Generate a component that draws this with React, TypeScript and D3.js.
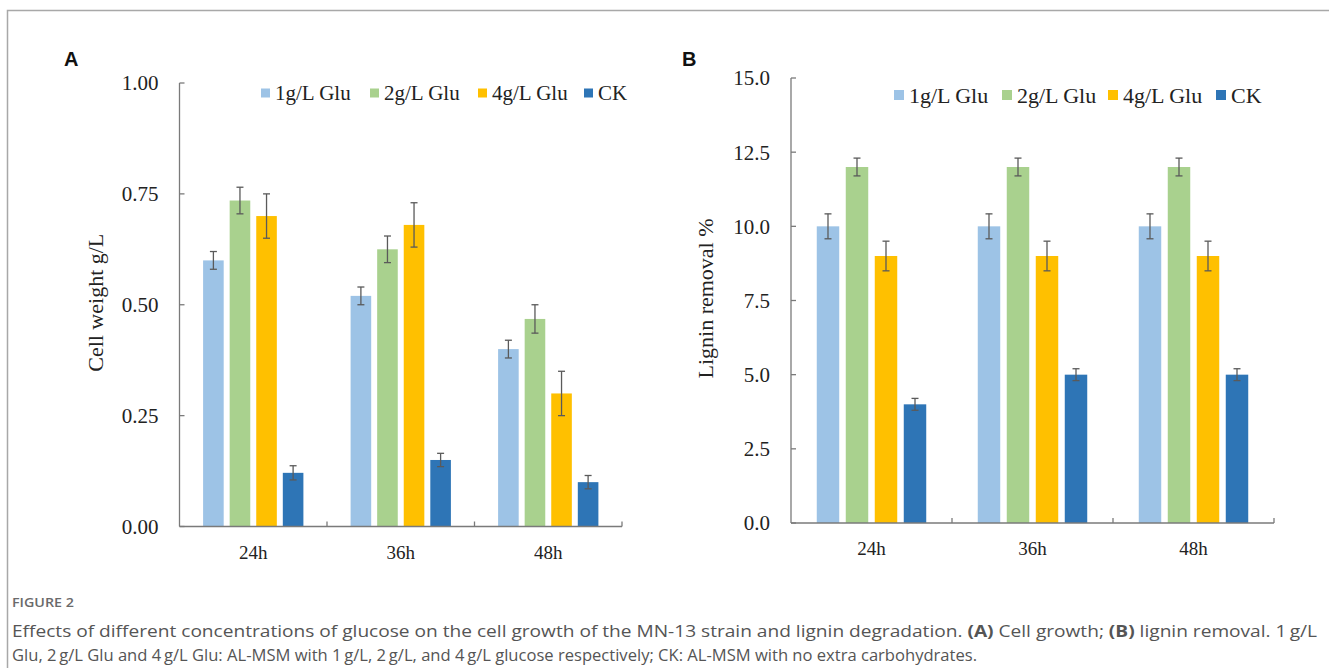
import React, { useEffect } from "react";
import * as d3 from "d3";

const categories = ["24h", "36h", "48h"];
const seriesNames = ["1g/L Glu", "2g/L Glu", "4g/L Glu", "CK"];
const seriesColors = ["#9DC3E6", "#A9D18E", "#FFC000", "#2E75B6"];

// panel A: cell weight g/L
const cellGlu1 = [0.6, 0.52, 0.4];
const cellGlu2 = [0.735, 0.625, 0.468];
const cellGlu4 = [0.7, 0.68, 0.3];
const cellCK = [0.121, 0.15, 0.1];
const cellErr1 = [0.02, 0.02, 0.02];
const cellErr2 = [0.03, 0.03, 0.032];
const cellErr4 = [0.05, 0.05, 0.05];
const cellErrCK = [0.016, 0.015, 0.015];
const cellTicks = [0, 0.25, 0.5, 0.75, 1.0];

// panel B: lignin removal %
const ligGlu1 = [10, 10, 10];
const ligGlu2 = [12, 12, 12];
const ligGlu4 = [9, 9, 9];
const ligCK = [4, 5, 5];
const ligErr1 = [0.42, 0.42, 0.42];
const ligErr2 = [0.3, 0.3, 0.3];
const ligErr4 = [0.5, 0.5, 0.5];
const ligErrCK = [0.2, 0.2, 0.2];
const ligTicks = [0, 2.5, 5, 7.5, 10, 12.5, 15];

const serif = "'Liberation Serif', 'Times New Roman', serif";
const axisColor = "#7a7a7a";
const errColor = "#5a5a5a";

type PanelProps = {
  letter: string;
  letterX: number;
  values: number[][];
  errors: number[][];
  ticks: number[];
  tickFmt: string;
  yMax: number;
  x0: number;
  x1: number;
  yTop: number;
  yBottom: number;
  groupFrac: number;
  yTitle: string;
  yTitleX: number;
  legendX: number[];
  legendY: number;
  legendSize: number;
  legendFont: number;
  tickFont: number;
};

function Panel(p: PanelProps) {
  const x = d3.scaleBand<string>().domain(categories).range([p.x0, p.x1]).padding(0);
  const bw = x.bandwidth();
  const span = bw * p.groupFrac;
  const inner = d3
    .scaleBand<string>()
    .domain(seriesNames)
    .range([(bw - span) / 2, (bw + span) / 2])
    .paddingInner(0.225)
    .paddingOuter(0);
  const y = d3.scaleLinear().domain([0, p.yMax]).range([p.yBottom, p.yTop]);
  const fmt = d3.format(p.tickFmt);
  const tickLen = 5;

  return (
    <g>
      <text x={p.letterX} y={66} fontFamily="'Liberation Sans', Arial, sans-serif" fontWeight="bold" fontSize={20} fill="#111">
        {p.letter}
      </text>

      {/* bars */}
      {categories.map((c, ci) => (
        <g key={c}>
          {seriesNames.map((s, si) => {
            const v = p.values[si][ci];
            const bx = (x(c) as number) + (inner(s) as number);
            return (
              <rect key={s} x={bx} y={y(v)} width={inner.bandwidth()} height={y(0) - y(v)} fill={seriesColors[si]} />
            );
          })}
        </g>
      ))}

      {/* error bars */}
      {categories.map((c, ci) => (
        <g key={"e" + c} stroke={errColor} strokeWidth={1.3}>
          {seriesNames.map((s, si) => {
            const v = p.values[si][ci];
            const e = p.errors[si][ci];
            const cx = (x(c) as number) + (inner(s) as number) + inner.bandwidth() / 2;
            return (
              <g key={s}>
                <line x1={cx} x2={cx} y1={y(v + e)} y2={y(v - e)} />
                <line x1={cx - 3.5} x2={cx + 3.5} y1={y(v + e)} y2={y(v + e)} />
                <line x1={cx - 3.5} x2={cx + 3.5} y1={y(v - e)} y2={y(v - e)} />
              </g>
            );
          })}
        </g>
      ))}

      {/* y axis */}
      <line x1={p.x0} x2={p.x0} y1={y(p.yMax)} y2={y(0)} stroke={axisColor} strokeWidth={1.3} />
      {p.ticks.map((t) => (
        <g key={t}>
          <line x1={p.x0} x2={p.x0 + tickLen} y1={y(t)} y2={y(t)} stroke={axisColor} strokeWidth={1.3} />
          <text x={p.x0 - 21} y={y(t)} dy="0.35em" textAnchor="end" fontFamily={serif} fontSize={p.tickFont} fill="#222">
            {fmt(t)}
          </text>
        </g>
      ))}

      {/* x axis */}
      <line x1={p.x0} x2={p.x1} y1={y(0)} y2={y(0)} stroke={axisColor} strokeWidth={1.5} />
      {categories.map((c) => (
        <g key={"t" + c}>
          <line
            x1={(x(c) as number) + bw}
            x2={(x(c) as number) + bw}
            y1={y(0)}
            y2={y(0) - tickLen}
            stroke={axisColor}
            strokeWidth={1.3}
          />
          <text x={(x(c) as number) + bw / 2} y={y(0) + 32} textAnchor="middle" fontFamily={serif} fontSize={19} fill="#222">
            {c}
          </text>
        </g>
      ))}

      {/* y title */}
      <text
        transform={`translate(${p.yTitleX},${(p.yTop + p.yBottom) / 2 - 2}) rotate(-90)`}
        textAnchor="middle"
        fontFamily={serif}
        fontSize={22}
        fill="#222"
      >
        {p.yTitle}
      </text>

      {/* legend */}
      {seriesNames.map((s, si) => (
        <g key={"l" + s}>
          <rect
            x={p.legendX[si]}
            y={p.legendY - p.legendSize / 2}
            width={p.legendSize}
            height={p.legendSize}
            fill={seriesColors[si]}
          />
          <text
            x={p.legendX[si] + p.legendSize + 5}
            y={p.legendY}
            dy="0.35em"
            fontFamily={serif}
            fontSize={p.legendFont}
            fill="#222"
          >
            {s}
          </text>
        </g>
      ))}
    </g>
  );
}

export default function App() {
  useEffect(() => {
    document.body.style.margin = "0";
  }, []);

  const thin = "\u2009";

  return (
    <svg width={1329} height={668} style={{ display: "block", background: "#fff" }}>
      {/* frame */}
      <path d="M7.5,668 V10.5 H1329" fill="none" stroke="#a8a8a8" strokeWidth={1.5} />

      <Panel
        letter="A"
        letterX={64}
        values={[cellGlu1, cellGlu2, cellGlu4, cellCK]}
        errors={[cellErr1, cellErr2, cellErr4, cellErrCK]}
        ticks={cellTicks}
        tickFmt=".2f"
        yMax={1}
        x0={179.5}
        x1={622}
        yTop={83}
        yBottom={526.5}
        groupFrac={0.68}
        yTitle="Cell weight g/L"
        yTitleX={103}
        legendX={[261, 370, 478, 584]}
        legendY={93}
        legendSize={9}
        legendFont={21}
        tickFont={21}
      />
      <Panel
        letter="B"
        letterX={682}
        values={[ligGlu1, ligGlu2, ligGlu4, ligCK]}
        errors={[ligErr1, ligErr2, ligErr4, ligErrCK]}
        ticks={ligTicks}
        tickFmt=".1f"
        yMax={15}
        x0={791}
        x1={1274}
        yTop={78}
        yBottom={523}
        groupFrac={0.68}
        yTitle="Lignin removal %"
        yTitleX={713}
        legendX={[894, 1002, 1108, 1216]}
        legendY={95}
        legendSize={10}
        legendFont={22}
        tickFont={21}
      />

      {/* caption */}
      <g fontFamily="'Open Sans', Lato, sans-serif" fill="#555">
        <text x={12} y={607} fontSize={12.5} fontWeight={600} fill="#6a6a6a" textLength={62} lengthAdjust="spacingAndGlyphs">
          FIGURE 2
        </text>
        <text x={12} y={637} fontSize={16} textLength={1305} lengthAdjust="spacingAndGlyphs">
          Effects of different concentrations of glucose on the cell growth of the MN-13 strain and lignin degradation.{" "}
          <tspan fontWeight="bold">(A)</tspan> Cell growth; <tspan fontWeight="bold">(B)</tspan> lignin removal. 1{thin}g/L
        </text>
        <text x={12} y={661} fontSize={16} textLength={965} lengthAdjust="spacingAndGlyphs">
          Glu, 2{thin}g/L Glu and 4{thin}g/L Glu: AL-MSM with 1{thin}g/L, 2{thin}g/L, and 4{thin}g/L glucose respectively; CK:
          AL-MSM with no extra carbohydrates.
        </text>
      </g>
    </svg>
  );
}
